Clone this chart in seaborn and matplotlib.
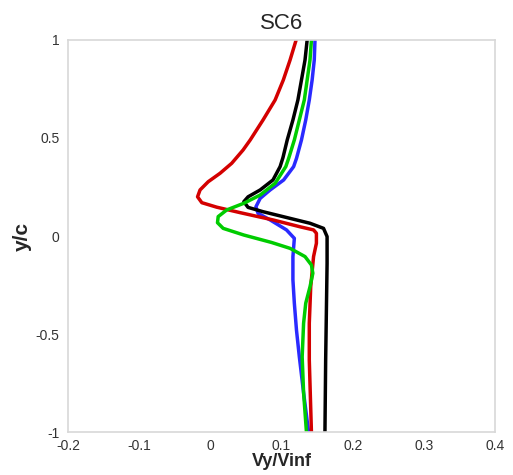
import matplotlib
matplotlib.use("Agg")
import matplotlib.pyplot as plt
import seaborn as sns
import pandas as pd

# Profiles (x = Vy/Vinf, y = y/c), top to bottom
red_y = [1.0, 0.898, 0.796, 0.694, 0.592, 0.490, 0.439, 0.371, 0.32, 0.277, 0.235, 0.20, 0.17,
         0.147, 0.119, 0.082, 0.047, 0.031, 0.014, -0.037, -0.105, -0.259, -0.445, -0.633, -1.0]
red_x = [0.1205, 0.112, 0.1025, 0.091, 0.074, 0.056, 0.046, 0.030, 0.0136, -0.003, -0.0145, -0.018, -0.012,
         0.009, 0.042, 0.088, 0.126, 0.145, 0.149, 0.149, 0.145, 0.141, 0.139, 0.139, 0.142]

black_y = [1.0, 0.898, 0.796, 0.694, 0.592, 0.490, 0.40, 0.354, 0.286, 0.235, 0.20, 0.175, 0.146,
           0.124, 0.090, 0.065, 0.039, -0.003, -0.14, -0.633, -1.0]
black_x = [0.136, 0.133, 0.128, 0.123, 0.116, 0.108, 0.102, 0.098, 0.088, 0.070, 0.053, 0.047, 0.053,
           0.074, 0.112, 0.140, 0.159, 0.164, 0.164, 0.162, 0.161]

blue_y = [1.0, 0.898, 0.796, 0.694, 0.592, 0.490, 0.396, 0.354, 0.286, 0.235, 0.192, 0.149, 0.116,
          0.082, 0.031, -0.012, -0.105, -0.224, -0.343, -0.48, -0.616, -0.8, -1.0]
blue_x = [0.147, 0.146, 0.143, 0.139, 0.134, 0.128, 0.121, 0.117, 0.103, 0.084, 0.070, 0.064, 0.067,
          0.084, 0.107, 0.118, 0.116, 0.116, 0.118, 0.121, 0.125, 0.131, 0.138]

green_y = [1.0, 0.898, 0.796, 0.694, 0.592, 0.490, 0.396, 0.354, 0.269, 0.209, 0.167, 0.133, 0.099,
           0.068, 0.039, 0.005, -0.033, -0.063, -0.105, -0.148, -0.19, -0.259, -0.343, -0.445,
           -0.616, -0.8, -1.0]
green_x = [0.142, 0.140, 0.136, 0.132, 0.125, 0.118, 0.110, 0.106, 0.091, 0.070, 0.047, 0.023, 0.011,
           0.010, 0.018, 0.047, 0.086, 0.112, 0.133, 0.142, 0.144, 0.140, 0.134, 0.131,
           0.129, 0.131, 0.135]

series = [("blue", blue_x, blue_y, "#2a2aff"),
          ("red", red_x, red_y, "#d40000"),
          ("black", black_x, black_y, "#000000"),
          ("green", green_x, green_y, "#00cc00")]

xticks = [-0.2, -0.1, 0, 0.1, 0.2, 0.3, 0.4]
xtick_labels = ["-0.2", "-0.1", "0", "0.1", "0.2", "0.3", "0.4"]
yticks = [-1, -0.5, 0, 0.5, 1]
ytick_labels = ["-1", "-0.5", "0", "0.5", "1"]

sns.set_style("white")
plt.rcParams["font.family"] = ["Liberation Sans", "DejaVu Sans"]

fig = plt.figure(figsize=(5.13, 4.75), dpi=100)
ax = fig.add_axes([0.1326, 0.0905, 0.8324, 0.8253])

for name, xs, ys, col in series:
    df = pd.DataFrame({"x": xs, "y": ys})
    sns.lineplot(data=df, x="x", y="y", sort=False, estimator=None,
                 color=col, linewidth=2.5, ax=ax)

ax.set_xlim(-0.2, 0.4)
ax.set_ylim(-1, 1)
ax.set_xticks(xticks)
ax.set_xticklabels(xtick_labels)
ax.set_yticks(yticks)
ax.set_yticklabels(ytick_labels)
ax.tick_params(direction="in", length=4, color="#bbbbbb", labelcolor="#333333",
               labelsize=10)
ax.tick_params(axis="x", pad=5)
ax.tick_params(axis="y", pad=6)
for sp in ax.spines.values():
    sp.set_color("#d8d8d8")
    sp.set_linewidth(1.2)

ax.set_title("SC6", fontsize=16, pad=8)
ax.set_xlabel("Vy/Vinf", fontsize=13, fontweight="bold", labelpad=0)
ax.set_ylabel("y/c", fontsize=15, fontweight="bold", labelpad=3)

plt.savefig("out.png", dpi=100)
